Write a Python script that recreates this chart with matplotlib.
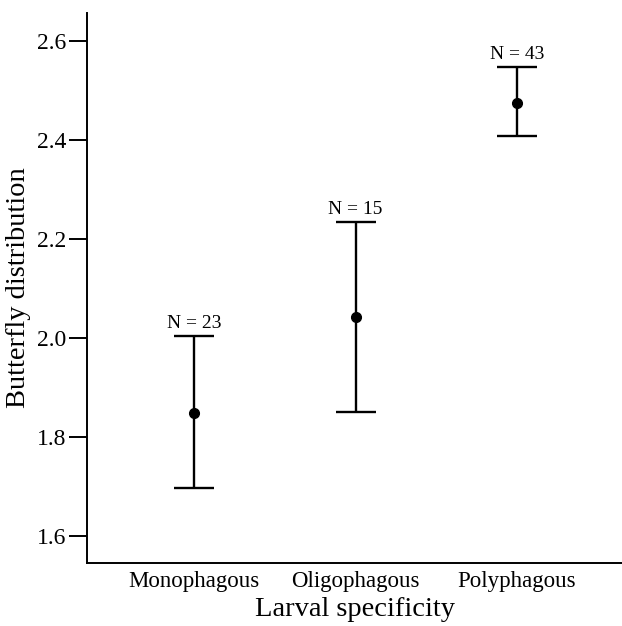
import matplotlib
matplotlib.use('Agg')
import matplotlib.pyplot as plt

# data
groups = ['Monophagous', 'Oligophagous', 'Polyphagous']
means = [1.849, 2.042, 2.475]
upper = [2.004, 2.234, 2.546]
lower = [1.696, 1.850, 2.407]
counts = [23, 15, 43]

plt.rcParams['font.family'] = ['Liberation Serif', 'DejaVu Serif']

fig = plt.figure(figsize=(6.22, 6.26), dpi=100)
ax = fig.add_axes([0.140, 0.1006, 0.860, 0.8786])

xpos = [1, 2, 3]
err_lo = [m - l for m, l in zip(means, lower)]
err_hi = [u - m for m, u in zip(means, upper)]
ax.errorbar(xpos, means, yerr=[err_lo, err_hi], fmt='o', color='black',
            markersize=7, elinewidth=1.7, capsize=14.5, capthick=1.7)

# sample size labels above the upper caps
for x, u, n in zip(xpos, upper, counts):
    ax.annotate('N = %d' % n, (x, u), xytext=(0, 3), textcoords='offset points',
                ha='center', va='bottom', fontsize=14)

ax.set_xlim(0.3375, 3.65)
ax.set_ylim(1.545, 2.656)
ax.set_yticks([1.6, 1.8, 2.0, 2.2, 2.4, 2.6])
ax.set_yticklabels(['1.6', '1.8', '2.0', '2.2', '2.4', '2.6'])
ax.set_xticks(xpos)
ax.set_xticklabels(groups)

ax.spines['top'].set_visible(False)
ax.spines['right'].set_visible(False)
ax.spines['left'].set_linewidth(1.4)
ax.spines['bottom'].set_linewidth(1.4)
ax.tick_params(axis='y', length=13, width=1.4, labelsize=17, pad=2)
ax.tick_params(axis='x', length=0, labelsize=16.5, pad=6)

ax.set_xlabel('Larval specificity', fontsize=20.5, labelpad=3)
ax.set_ylabel('Butterfly distribution', fontsize=20.5, labelpad=4)

fig.savefig('out.png', dpi=100)
